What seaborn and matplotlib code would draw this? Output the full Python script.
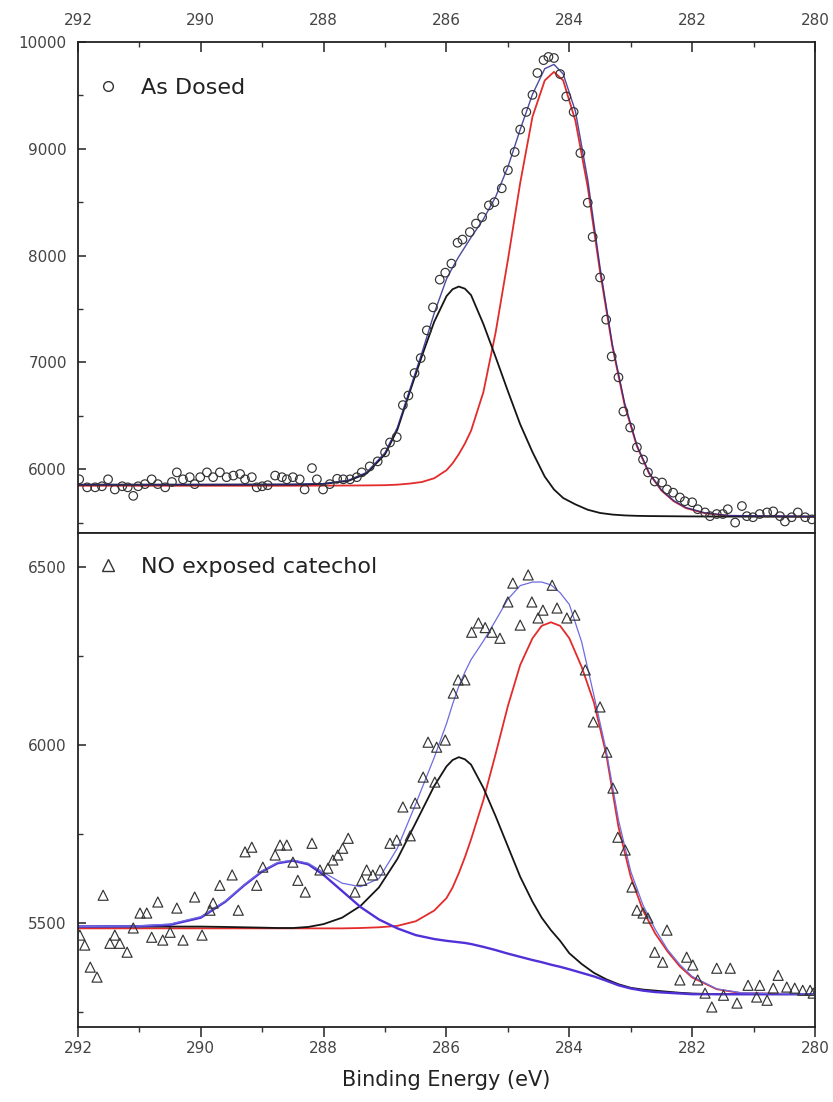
import numpy as np
import pandas as pd
import matplotlib.pyplot as plt
import seaborn as sns
from matplotlib.ticker import MultipleLocator
from matplotlib.lines import Line2D

## C 1s region

### as dosed -- measured points
dosed_be = [
    291.98, 291.85, 291.72, 291.61, 291.51, 291.40, 291.28, 291.19, 291.10, 291.02,
    290.91, 290.80, 290.70, 290.58, 290.47, 290.39, 290.29, 290.18, 290.10, 290.01,
    289.90, 289.80, 289.69, 289.58, 289.47, 289.36, 289.28, 289.17, 289.09, 289.00,
    288.91, 288.79, 288.68, 288.60, 288.50, 288.39, 288.31, 288.19, 288.11, 288.01,
    287.90, 287.78, 287.68, 287.57, 287.46, 287.38, 287.25, 287.12, 287.00, 286.92,
    286.81, 286.71, 286.62, 286.52, 286.42, 286.32, 286.22, 286.11, 286.02, 285.92,
    285.82, 285.74, 285.62, 285.52, 285.42, 285.31, 285.22, 285.10, 285.00, 284.89,
    284.80, 284.70, 284.60, 284.52, 284.42, 284.34, 284.25, 284.15, 284.05, 283.93,
    283.82, 283.70, 283.62, 283.50, 283.40, 283.31, 283.20, 283.12, 283.01, 282.90,
    282.80, 282.72, 282.61, 282.49, 282.41, 282.31, 282.20, 282.12, 282.00, 281.91,
    281.79, 281.71, 281.60, 281.50, 281.42, 281.30, 281.19, 281.11, 281.01, 280.90,
    280.78, 280.68, 280.57, 280.49, 280.38, 280.28, 280.16, 280.05]
dosed_cps = [
    5905, 5830, 5830, 5840, 5905, 5810, 5840, 5830, 5750, 5840,
    5860, 5905, 5860, 5830, 5880, 5970, 5905, 5925, 5860, 5925,
    5970, 5925, 5970, 5925, 5940, 5955, 5905, 5925, 5830, 5840,
    5850, 5940, 5925, 5905, 5925, 5905, 5810, 6010, 5905, 5810,
    5860, 5910, 5905, 5905, 5925, 5970, 6026, 6073, 6157, 6250,
    6300, 6600, 6690, 6900, 7040, 7300, 7515, 7775, 7840, 7925,
    8120, 8150, 8220, 8300, 8360, 8470, 8500, 8630, 8800, 8970,
    9180, 9345, 9505, 9710, 9830, 9860, 9850, 9700, 9490, 9345,
    8960, 8495, 8175, 7795, 7400, 7055, 6860, 6540, 6390, 6205,
    6090, 5970, 5885, 5875, 5810, 5780, 5735, 5700, 5690, 5625,
    5595, 5560, 5580, 5580, 5625, 5500, 5655, 5560, 5550, 5580,
    5595, 5605, 5560, 5510, 5550, 5595, 5550, 5530]

### as dosed -- fitted curves
dosed_fit_be = [
    292.0, 290.0, 288.5, 288.0, 287.6, 287.3, 287.0, 286.8, 286.6, 286.4,
    286.2, 286.0, 285.9, 285.8, 285.7, 285.6, 285.4, 285.2, 285.0, 284.8,
    284.6, 284.4, 284.25, 284.1, 283.9, 283.7, 283.5, 283.3, 283.1, 282.9,
    282.7, 282.5, 282.3, 282.1, 281.8, 281.4, 280.0]
dosed_envelope = [
    5855, 5856, 5858, 5865, 5895, 5970, 6155, 6390, 6740, 7090,
    7460, 7780, 7890, 7990, 8080, 8170, 8340, 8550, 8830, 9180,
    9510, 9750, 9790, 9700, 9350, 8710, 7890, 7170, 6620, 6225,
    5965, 5805, 5705, 5640, 5592, 5566, 5558]
dosed_peak_c = [  # black, ~285.8 eV
    5855, 5855, 5856, 5862, 5890, 5960, 6140, 6370, 6720, 7060,
    7380, 7620, 7685, 7710, 7690, 7630, 7360, 7050, 6730, 6420,
    6160, 5930, 5810, 5730, 5670, 5620, 5590, 5575, 5567, 5563,
    5561, 5560, 5559, 5558, 5557, 5556, 5555]
dosed_peak_r = [  # red, ~284.3 eV
    5845, 5845, 5845, 5846, 5847, 5848, 5850, 5855, 5865, 5880,
    5915, 5990, 6055, 6140, 6240, 6360, 6720, 7280, 7960, 8680,
    9300, 9640, 9720, 9640, 9260, 8640, 7850, 7150, 6600, 6215,
    5958, 5800, 5700, 5635, 5588, 5563, 5555]

### NO exposed catechol -- measured points
no_be = [
    291.97, 291.89, 291.80, 291.69, 291.59, 291.48, 291.40, 291.32, 291.20, 291.10,
    290.99, 290.88, 290.80, 290.70, 290.62, 290.50, 290.39, 290.29, 290.10, 289.98,
    289.85, 289.80, 289.69, 289.49, 289.39, 289.28, 289.17, 289.09, 288.99, 288.79,
    288.71, 288.60, 288.50, 288.42, 288.30, 288.19, 288.06, 287.93, 287.85, 287.77,
    287.69, 287.60, 287.49, 287.38, 287.30, 287.20, 287.08, 286.92, 286.81, 286.71,
    286.59, 286.51, 286.38, 286.30, 286.19, 286.16, 286.02, 285.89, 285.81, 285.70,
    285.59, 285.48, 285.37, 285.26, 285.13, 285.00, 284.92, 284.80, 284.67, 284.61,
    284.51, 284.43, 284.28, 284.20, 284.04, 283.91, 283.74, 283.61, 283.50, 283.39,
    283.29, 283.21, 283.09, 282.98, 282.90, 282.80, 282.72, 282.61, 282.48, 282.41,
    282.20, 282.09, 281.99, 281.91, 281.79, 281.68, 281.60, 281.49, 281.38, 281.27,
    281.09, 280.95, 280.90, 280.78, 280.68, 280.60, 280.46, 280.33, 280.20, 280.08,
    280.03]
no_cps = [
    5466, 5438, 5376, 5348, 5578, 5443, 5466, 5443, 5418, 5486,
    5528, 5528, 5460, 5559, 5452, 5474, 5542, 5452, 5573, 5466,
    5536, 5556, 5606, 5635, 5536, 5700, 5713, 5606, 5657, 5691,
    5719, 5719, 5671, 5620, 5587, 5724, 5649, 5654, 5677, 5691,
    5710, 5738, 5587, 5620, 5649, 5635, 5649, 5724, 5733, 5826,
    5745, 5837, 5910, 6008, 5896, 5994, 6014, 6146, 6183, 6183,
    6317, 6343, 6330, 6317, 6300, 6402, 6455, 6337, 6478, 6402,
    6357, 6379, 6449, 6385, 6357, 6365, 6211, 6065, 6107, 5980,
    5879, 5741, 5705, 5601, 5536, 5528, 5514, 5418, 5390, 5480,
    5340, 5404, 5382, 5340, 5303, 5264, 5373, 5297, 5373, 5275,
    5325, 5292, 5325, 5283, 5317, 5353, 5320, 5317, 5311, 5311,
    5303]

### NO exposed catechol -- fitted curves
no_fit_be = [
    292.0, 291.0, 290.5, 290.0, 289.6, 289.3, 289.0, 288.75, 288.5, 288.25,
    288.0, 287.7, 287.4, 287.1, 286.8, 286.5, 286.2, 286.0, 285.9, 285.8,
    285.7, 285.6, 285.4, 285.2, 285.0, 284.8, 284.6, 284.45, 284.3, 284.15,
    284.0, 283.8, 283.6, 283.4, 283.2, 283.0, 282.8, 282.6, 282.4, 282.2,
    282.0, 281.6, 281.2, 280.0]
no_envelope = [
    5490, 5492, 5497, 5518, 5562, 5607, 5647, 5670, 5677, 5668,
    5642, 5612, 5602, 5625, 5710, 5835, 5965, 6060, 6115, 6165,
    6205, 6240, 6292, 6350, 6410, 6448, 6458, 6458, 6450, 6428,
    6395, 6290, 6140, 5985, 5790, 5645, 5550, 5482, 5425, 5383,
    5350, 5315, 5304, 5300]
no_peak_a = [  # blue, ~288.5 eV
    5490, 5491, 5495, 5515, 5560, 5605, 5645, 5668, 5675, 5665,
    5635, 5590, 5545, 5510, 5485, 5466, 5455, 5450, 5448, 5446,
    5444, 5441, 5433, 5424, 5414, 5405, 5396, 5390, 5383, 5377,
    5370, 5360, 5350, 5338, 5325, 5316, 5310, 5306, 5304, 5302,
    5300, 5300, 5300, 5300]
no_peak_c = [  # black, ~285.8 eV
    5490, 5490, 5490, 5490, 5489, 5488, 5487, 5486, 5486, 5489,
    5497, 5515, 5548, 5600, 5680, 5782, 5885, 5940, 5958, 5966,
    5960, 5945, 5880, 5800, 5715, 5630, 5560, 5515, 5480, 5450,
    5415, 5385, 5360, 5342, 5328, 5318, 5313, 5310, 5307, 5304,
    5302, 5300, 5300, 5300]
no_peak_r = [  # red, ~284.3 eV
    5485, 5485, 5485, 5485, 5485, 5485, 5485, 5485, 5485, 5485,
    5485, 5485, 5486, 5488, 5492, 5505, 5535, 5570, 5600, 5640,
    5685, 5735, 5845, 5975, 6110, 6225, 6300, 6335, 6345, 6335,
    6300, 6220, 6120, 5975, 5770, 5630, 5535, 5470, 5420, 5378,
    5347, 5314, 5303, 5300]


## style
sns.set_theme(style='white')
plt.rcParams['font.family'] = ['DejaVu Sans']
TICK_COLOR = '#444444'
EDGE = '#333333'

fig = plt.figure(figsize=(8.33, 11.02), dpi=100)
ax1 = fig.add_axes([0.0936, 0.5163, 0.8848, 0.4456])
ax2 = fig.add_axes([0.0936, 0.0681, 0.8848, 0.4483], sharex=ax1)

# top panel -- as dosed
sns.lineplot(x=dosed_fit_be, y=dosed_peak_r, color='#e32b2b', lw=1.3, ax=ax1)
sns.lineplot(x=dosed_fit_be, y=dosed_peak_c, color='#151515', lw=1.3, ax=ax1)
sns.lineplot(x=dosed_fit_be, y=dosed_envelope, color='#2c2a8e', lw=1.0, alpha=0.85, ax=ax1)
sns.scatterplot(x=dosed_be, y=dosed_cps, marker='o', s=38, facecolors='none',
                edgecolor=EDGE, linewidth=0.85, ax=ax1, zorder=4)

# bottom panel -- NO exposed catechol
sns.lineplot(x=no_fit_be, y=no_peak_r, color='#e32b2b', lw=1.3, ax=ax2)
sns.lineplot(x=no_fit_be, y=no_peak_c, color='#151515', lw=1.3, ax=ax2)
sns.lineplot(x=no_fit_be, y=no_peak_a, color='#5230d8', lw=1.7, ax=ax2)
sns.lineplot(x=no_fit_be, y=no_envelope, color='#6c6ce0', lw=0.9, ax=ax2)
sns.scatterplot(x=no_be, y=no_cps, marker='^', s=52, facecolors='none',
                edgecolor=EDGE, linewidth=0.85, ax=ax2, zorder=4)

## axes
ax1.set_xlim(292, 280)
ax1.set_ylim(5402, 10000)
ax2.set_ylim(5208, 6596)

for ax in (ax1, ax2):
    ax.xaxis.set_major_locator(MultipleLocator(2))
    ax.xaxis.set_minor_locator(MultipleLocator(1))
    for side in ax.spines.values():
        side.set_linewidth(1.3)
        side.set_color('#222222')
    ax.tick_params(axis='y', which='both', direction='in', left=True, right=False,
                   colors='#333333', labelcolor=TICK_COLOR, labelsize=11, pad=8)
    ax.tick_params(axis='y', which='major', length=6, width=1.2)
    ax.tick_params(axis='y', which='minor', length=3.5, width=1.0)
    ax.set_xlabel('')
    ax.set_ylabel('')

ax1.yaxis.set_major_locator(MultipleLocator(1000))
ax1.yaxis.set_minor_locator(MultipleLocator(500))
ax2.yaxis.set_major_locator(MultipleLocator(500))
ax2.yaxis.set_minor_locator(MultipleLocator(250))

ax1.tick_params(axis='x', which='both', direction='in', bottom=False, top=True,
                labelbottom=False, labeltop=True, colors='#333333',
                labelcolor=TICK_COLOR, labelsize=11, pad=10)
ax1.tick_params(axis='x', which='major', length=7, width=1.2)
ax1.tick_params(axis='x', which='minor', length=3.5, width=1.0)

ax2.tick_params(axis='x', which='both', direction='out', bottom=True, top=False,
                labelbottom=True, colors='#333333', labelcolor=TICK_COLOR,
                labelsize=11, pad=3)
ax2.tick_params(axis='x', which='major', length=7, width=1.2)
ax2.tick_params(axis='x', which='minor', length=3.5, width=1.0)

ax2.set_xlabel('Binding Energy (eV)', fontsize=15, color='#222222', labelpad=10)

## legends
h1 = Line2D([], [], ls='none', marker='o', ms=7, mfc='none', mec=EDGE, mew=1.0)
ax1.legend([h1], ['As Dosed'], loc='center left', bbox_to_anchor=(0.025, 0.906),
           frameon=False, fontsize=16, handlelength=1.0, handletextpad=1.0,
           borderpad=0, borderaxespad=0, labelcolor='#222222')
h2 = Line2D([], [], ls='none', marker='^', ms=8, mfc='none', mec=EDGE, mew=1.0)
ax2.legend([h2], ['NO exposed catechol'], loc='center left', bbox_to_anchor=(0.025, 0.931),
           frameon=False, fontsize=16, handlelength=1.0, handletextpad=1.0,
           borderpad=0, borderaxespad=0, labelcolor='#222222')

fig.savefig('out.png', dpi=100)
